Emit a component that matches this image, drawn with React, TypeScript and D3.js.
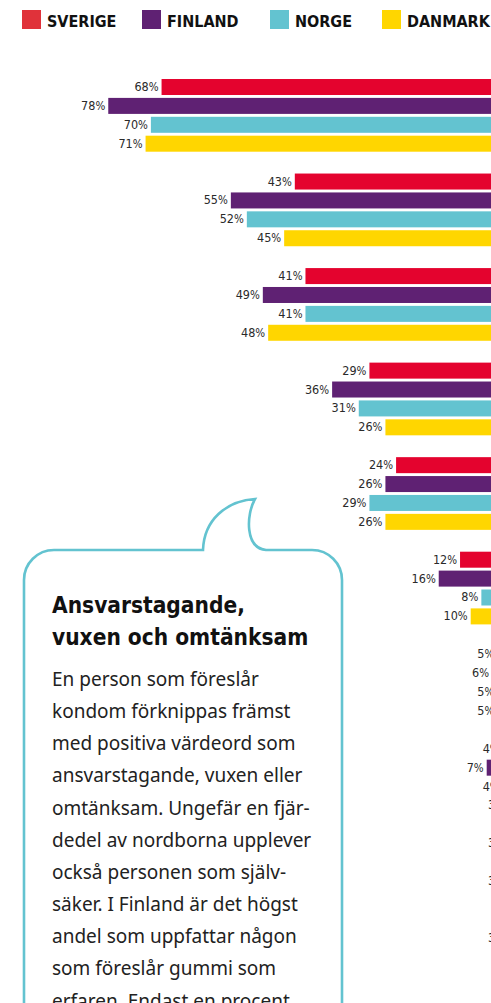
import React from "react";
import * as d3 from "d3";

// ---- data ----
const countries = ["SVERIGE", "FINLAND", "NORGE", "DANMARK"];
const categories = [
  "Ansvarstagande",
  "Vuxen",
  "Omtänksam",
  "Självsäker",
  "Trygg",
  "Erfaren",
  "Kategori 7",
  "Kategori 8",
  "Kategori 9",
  "Kategori 10",
];
const sverige = [68, 43, 41, 29, 24, 12, 5, 4, 3, 3];
const finland = [78, 55, 49, 36, 26, 16, 6, 7, 2, 1];
const norge = [70, 52, 41, 31, 29, 8, 5, 4, 3, 1];
const danmark = [71, 45, 48, 26, 26, 10, 5, 3, 2, 2];
const seriesValues = [sverige, finland, norge, danmark];

const calloutTitle = ["Ansvarstagande,", "vuxen och omtänksam"];
const calloutBody = [
  "En person som föreslår",
  "kondom förknippas främst",
  "med positiva värdeord som",
  "ansvarstagande, vuxen eller",
  "omtänksam. Ungefär en fjär-",
  "dedel av nordborna upplever",
  "också personen som själv-",
  "säker. I Finland är det högst",
  "andel som uppfattar någon",
  "som föreslår gummi som",
  "erfaren. Endast en procent",
];

// ---- styling / layout ----
const W = 491;
const H = 1003;
const colors = ["#E4032E", "#5F2173", "#63C3D0", "#FFD600"];
const legendColors = ["#E0323A", "#5F2173", "#63C3D0", "#FFD600"];
const legendX = [22, 142, 270, 382];

export default function App() {
  const x = d3.scaleLinear().domain([0, 100]).range([524, -9]);
  const groupStep = 94.54;
  const y0 = d3
    .scaleBand<string>()
    .domain(categories)
    .range([79, 79 + groupStep * categories.length])
    .paddingInner(0)
    .paddingOuter(0);
  const rowStep = 18.9;
  const barH = 16;
  const y1 = d3
    .scaleBand<string>()
    .domain(countries)
    .range([0, rowStep * 4 - (rowStep - barH)])
    .paddingInner((rowStep - barH) / rowStep)
    .paddingOuter(0);

  const labelFont = "'DejaVu Sans Condensed', 'DejaVu Sans', sans-serif";

  const boxL = 24;
  const boxR = 342;
  const boxT = 550;
  const r = 30;
  const boxPath = [
    `M ${boxL} ${H + 40}`,
    `L ${boxL} ${boxT + r}`,
    `A ${r} ${r} 0 0 1 ${boxL + r} ${boxT}`,
    `L 203 ${boxT}`,
    `C 204 520 226 501 255 499`,
    `C 246 515 245 548 266 ${boxT}`,
    `L ${boxR - r} ${boxT}`,
    `A ${r} ${r} 0 0 1 ${boxR} ${boxT + r}`,
    `L ${boxR} ${H + 40}`,
  ].join(" ");

  return (
    <svg
      width={W}
      height={H}
      viewBox={`0 0 ${W} ${H}`}
      style={{ position: "absolute", left: 0, top: 0, background: "#fff" }}
    >
      <rect x={0} y={0} width={W} height={H} fill="#fff" />
      {/* legend */}
      <g>
        {countries.map((c, i) => (
          <g key={c} transform={`translate(${legendX[i]},0)`}>
            <rect x={0} y={10} width={19} height={19} fill={legendColors[i]} />
            <text
              x={25}
              y={27}
              fontFamily={labelFont}
              fontWeight="bold"
              fontSize={16}
              fill="#111"
            >
              {c}
            </text>
          </g>
        ))}
      </g>

      {/* bars */}
      <g>
        {categories.map((cat, gi) => (
          <g key={cat} transform={`translate(0,${y0(cat)})`}>
            {countries.map((c, si) => {
              const v = seriesValues[si][gi];
              const yy = y1(c) as number;
              return (
                <g key={c}>
                  <rect
                    x={x(v)}
                    y={yy}
                    width={x(0) - x(v)}
                    height={y1.bandwidth()}
                    fill={colors[si]}
                  />
                  <text
                    x={x(v) - 3}
                    y={yy + 12}
                    textAnchor="end"
                    fontFamily={labelFont}
                    fontSize={12.5}
                    fill="#2a2a2a"
                  >
                    {`${v}`}
                    <tspan fontSize={11.5}>%</tspan>
                  </text>
                </g>
              );
            })}
          </g>
        ))}
      </g>

      {/* callout */}
      <path d={boxPath} fill="#fff" stroke="#63C3D0" strokeWidth={2.6} />
      <g fontFamily={labelFont} fontWeight="bold" fontSize={22.5} fill="#111">
        {calloutTitle.map((t, i) => (
          <text key={i} x={52} y={612.7 + i * 32.3}>
            {t}
          </text>
        ))}
      </g>
      <g fontFamily="'Noto Sans', sans-serif" fontSize={19} fill="#222">
        {calloutBody.map((t, i) => (
          <text key={i} x={52} y={686 + i * 32.15}>
            {t}
          </text>
        ))}
      </g>
    </svg>
  );
}
